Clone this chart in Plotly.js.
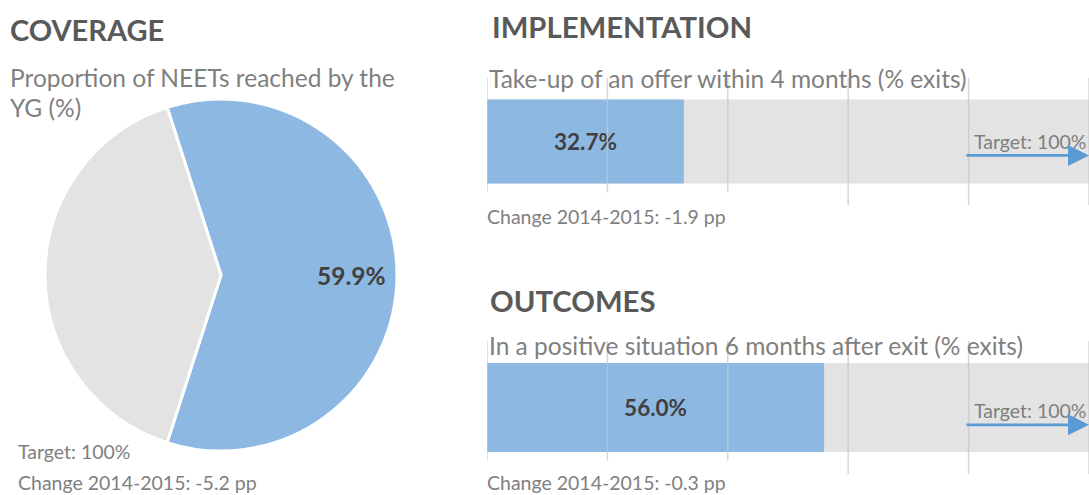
<!DOCTYPE html>
<html>
<head>
<meta charset="utf-8">
<script src="https://cdn.plot.ly/plotly-3.0.1.min.js"></script>
<style>html,body{margin:0;padding:0;background:#fff;}#chart{width:1089px;height:495px;}</style>
</head>
<body>
<div id="chart"></div>
<script>
// ---- data ----
const coverageLabels = ["Reached", "Not reached"];
const coverageValues = [59.9, 40.1];
const coverageChange = -5.2;
const implementationValue = 32.7;
const implementationChange = -1.9;
const outcomesValue = 56.0;
const outcomesChange = -0.3;
const targetValue = 100;
const gridTicks = [0, 20, 40, 60, 80, 100];

const blue = "#8DB8E2";
const grey = "#E3E3E3";
const arrowBlue = "#5B9BD5";
const titleCol = "#595959";
const subCol = "#7F7F7F";
const valCol = "#404040";
const FONT = "Lato, 'Open Sans', sans-serif";

const fmt = v => v.toFixed(1) + "%";
const chg = v => "Change 2014-2015: " + v.toFixed(1) + " pp";

const traces = [
  {
    type: "pie",
    labels: coverageLabels,
    values: coverageValues,
    sort: false,
    direction: "clockwise",
    rotation: -(coverageValues[0] / 100 * 360) / 2 + 90,
    marker: {colors: [blue, grey], line: {color: "#fff", width: 3}},
    textinfo: "none",
    domain: {x: [45/1089, 397/1089], y: [1 - 451/495, 1 - 99/495]},
    hoverinfo: "none",
    showlegend: false
  },
  // implementation
  {type: "bar", orientation: "h", x: [targetValue], y: [0], width: 0.66, marker: {color: grey}, xaxis: "x", yaxis: "y", hoverinfo: "none", showlegend: false},
  {type: "bar", orientation: "h", x: [implementationValue], y: [0], width: 0.66, marker: {color: blue}, xaxis: "x", yaxis: "y",
   text: [fmt(implementationValue)], textposition: "inside", insidetextanchor: "middle", constraintext: "none",
   textfont: {family: FONT, size: 22.5, color: valCol, weight: "bold"}, hoverinfo: "none", showlegend: false},
  // outcomes
  {type: "bar", orientation: "h", x: [targetValue], y: [0], width: 0.67, marker: {color: grey}, xaxis: "x2", yaxis: "y2", hoverinfo: "none", showlegend: false},
  {type: "bar", orientation: "h", x: [outcomesValue], y: [0], width: 0.67, marker: {color: blue}, xaxis: "x2", yaxis: "y2",
   text: [fmt(outcomesValue)], textposition: "inside", insidetextanchor: "middle", constraintext: "none",
   textfont: {family: FONT, size: 22.5, color: valCol, weight: "bold"}, hoverinfo: "none", showlegend: false}
];

const hiddenAx = {showgrid: false, zeroline: false, showticklabels: false, ticks: "", showline: false, fixedrange: true};

const shapes = [];
gridTicks.forEach((t, i) => {
  const long = i >= 3;
  shapes.push({type: "line", xref: "x", yref: "y domain", x0: t, x1: t, y0: long ? 0 : 0.1, y1: 1.0,
    line: {color: "rgba(200,200,200,0.75)", width: 1.5}, layer: "above"});
  shapes.push({type: "line", xref: "x2", yref: "y2 domain", x0: t, x1: t, y0: long ? 0 : 0.1, y1: 1.0,
    line: {color: "rgba(200,200,200,0.75)", width: 1.5}, layer: "above"});
});

function txt(x, y, text, size, color, bold, xanchor) {
  return {xref: "paper", yref: "paper", x: x / 1089, y: 1 - y / 495, text: text, showarrow: false,
    xanchor: xanchor || "left", yanchor: "middle",
    font: {family: FONT, size: size, color: color, weight: bold ? "bold" : "normal"}};
}

const annotations = [
  txt(8, 30, "COVERAGE", 29, titleCol, true),
  txt(8, 77, "Proportion of NEETs reached by the", 24.5, subCol, false),
  txt(8, 108, "YG (%)", 24.5, subCol, false),
  txt(16, 451, "Target: " + targetValue + "%", 19.5, subCol, false),
  txt(16, 482, chg(coverageChange), 19.5, subCol, false),
  // pie value label
  txt(351, 275, fmt(coverageValues[0]), 24.5, valCol, true, "center"),

  txt(490, 26, "IMPLEMENTATION", 29.3, titleCol, true),
  txt(487, 78, "Take-up of an offer within 4 months (% exits)", 24.5, subCol, false),
  txt(485, 217, chg(implementationChange), 19.5, subCol, false),

  txt(488, 300, "OUTCOMES", 29.3, titleCol, true),
  txt(487, 345, "In a positive situation 6 months after exit (% exits)", 24.5, subCol, false),
  txt(485, 482, chg(outcomesChange), 19.5, subCol, false),

  // targets
  {xref: "x", yref: "y", x: targetValue, y: 0.0, text: "Target: " + targetValue + "%", showarrow: false, xanchor: "right", yanchor: "middle",
   font: {family: FONT, size: 19.5, color: subCol}},
  {xref: "x", yref: "y", x: targetValue, y: -0.11, ax: 79.4, ay: -0.11, axref: "x", ayref: "y", text: "", showarrow: true,
   arrowhead: 2, arrowsize: 1.5, arrowwidth: 2.8, arrowcolor: arrowBlue},
  {xref: "x2", yref: "y2", x: targetValue, y: -0.02, text: "Target: " + targetValue + "%", showarrow: false, xanchor: "right", yanchor: "middle",
   font: {family: FONT, size: 19.5, color: subCol}},
  {xref: "x2", yref: "y2", x: targetValue, y: -0.13, ax: 79.4, ay: -0.13, axref: "x2", ayref: "y2", text: "", showarrow: true,
   arrowhead: 2, arrowsize: 1.5, arrowwidth: 2.8, arrowcolor: arrowBlue}
];

const layout = {
  width: 1089, height: 495,
  margin: {l: 0, r: 0, t: 0, b: 0},
  paper_bgcolor: "#fff", plot_bgcolor: "rgba(0,0,0,0)",
  barmode: "overlay",
  font: {family: FONT},
  xaxis: Object.assign({domain: [487/1089, 1], range: [0, 100], anchor: "y"}, hiddenAx),
  yaxis: Object.assign({domain: [1 - 205/495, 1 - 78/495], range: [-0.5, 0.5], anchor: "x"}, hiddenAx),
  xaxis2: Object.assign({domain: [487/1089, 1], range: [0, 100], anchor: "y2"}, hiddenAx),
  yaxis2: Object.assign({domain: [1 - 474/495, 1 - 341/495], range: [-0.5, 0.5], anchor: "x2"}, hiddenAx),
  shapes: shapes,
  annotations: annotations
};

Plotly.newPlot("chart", traces, layout, {displayModeBar: false, staticPlot: true});
</script>
</body>
</html>
